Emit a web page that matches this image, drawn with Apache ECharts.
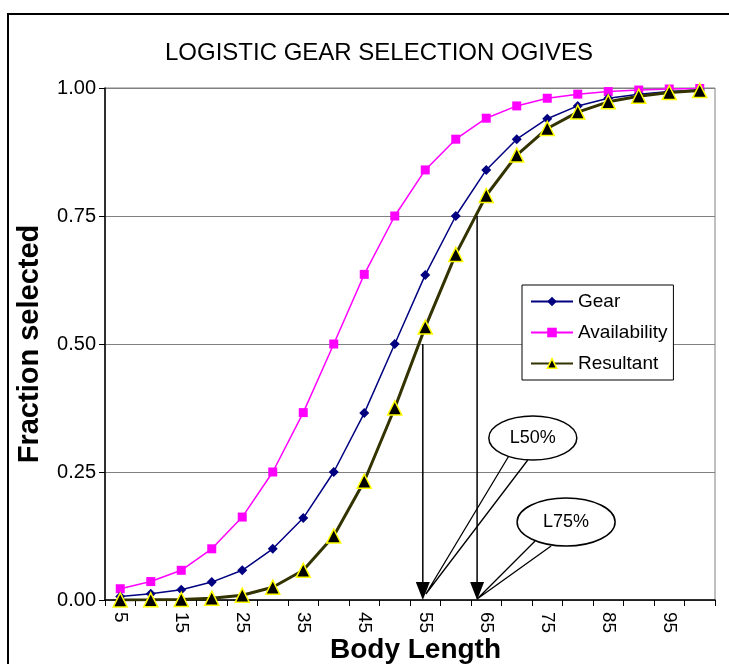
<!DOCTYPE html>
<html><head><meta charset="utf-8">
<script src="https://cdn.jsdelivr.net/npm/echarts@6/dist/echarts.min.js"></script>
<style>html,body{margin:0;padding:0;background:#fff}#c{width:729px;height:664px}</style>
</head><body><div id="c"></div>
<script>
var categories = ['5','10','15','20','25','30','35','40','45','50','55','60','65','70','75','80','85','90','95','100'];
var gear = [0.007,0.012,0.020,0.035,0.058,0.100,0.160,0.250,0.365,0.500,0.635,0.750,0.840,0.900,0.940,0.965,0.980,0.988,0.993,0.996];
var availability = [0.022,0.036,0.058,0.100,0.162,0.250,0.366,0.500,0.636,0.750,0.840,0.900,0.941,0.965,0.980,0.988,0.993,0.996,0.998,0.999];
var resultant = [0.0002,0.0004,0.0012,0.0035,0.0094,0.025,0.058,0.125,0.232,0.375,0.533,0.675,0.790,0.869,0.921,0.953,0.973,0.984,0.991,0.995];
var yTicks = ['0.00','0.25','0.50','0.75','1.00'];
var L50 = 54.6, L75 = 63.5; // body lengths marked by arrows
var L50level = 0.50, L75level = 0.75;

var F = 'Liberation Sans, Arial, sans-serif';
var chart = echarts.init(document.getElementById('c'), null, {renderer:'canvas'});
var option = {
  animation:false,
  backgroundColor:'#fff',
  title:{text:'LOGISTIC GEAR SELECTION OGIVES', left:374, top:36, textAlign:'center',
    textStyle:{fontFamily:F, fontSize:24, fontWeight:'normal', color:'#000'}},
  grid:{left:105, right:14, top:88, bottom:64, show:true, borderColor:'#808080', borderWidth:1,
    containLabel:false, outerBoundsMode:'none'},
  legend:{orient:'vertical', left:522, top:285, backgroundColor:'#fff', borderColor:'#000', borderWidth:1,
    padding:[7,6,7,8], itemWidth:42, itemHeight:12, itemGap:12,
    textStyle:{fontFamily:F, fontSize:19, color:'#000'},
    data:[
      {name:'Gear'},
      {name:'Availability'},
      {name:'Resultant', itemStyle:{color:'#000', borderColor:'#FFFF00', borderWidth:1.5}}
    ]},
  xAxis:{type:'category', data:categories, boundaryGap:true,
    name:'Body Length', nameLocation:'middle', nameGap:36, nameMoveOverlap:false,
    nameTextStyle:{fontFamily:F, fontSize:28, fontWeight:'bold', color:'#000', padding:[0,0,0,11]},
    axisLine:{lineStyle:{color:'#000', width:1.5}},
    axisTick:{show:true, interval:0, length:6, lineStyle:{color:'#000'}},
    axisLabel:{interval:1, rotate:-90, fontFamily:F, fontSize:19, color:'#000', margin:12},
    splitLine:{show:false}},
  yAxis:{type:'value', min:0, max:1, interval:0.25,
    name:'Fraction selected', nameLocation:'middle', nameGap:61, nameMoveOverlap:false,
    nameTextStyle:{fontFamily:F, fontSize:29, fontWeight:'bold', color:'#000'},
    axisLine:{show:true, lineStyle:{color:'#000', width:1.5}},
    axisTick:{show:true, length:6, lineStyle:{color:'#000'}},
    axisLabel:{fontFamily:F, fontSize:20, color:'#000', margin:9,
      formatter:function(v){ return yTicks[Math.round(v/0.25)]; }},
    splitLine:{lineStyle:{color:'#808080', width:1}}},
  series:[
    {name:'Gear', type:'line', data:gear, symbol:'diamond', symbolSize:10,
      lineStyle:{color:'#000080', width:1.5}, itemStyle:{color:'#000080'}, z:3},
    {name:'Availability', type:'line', data:availability, symbol:'rect', symbolSize:9,
      lineStyle:{color:'#FF00FF', width:1.5}, itemStyle:{color:'#FF00FF'}, z:2},
    {name:'Resultant', type:'line', data:resultant, symbol:'triangle', symbolSize:14,
      lineStyle:{color:'#333300', width:3}, itemStyle:{color:'#000', borderColor:'#FFFF00', borderWidth:1.5}, z:4}
  ]
};
chart.setOption(option);

function px(len, val){
  var idx = (len - 5) / 5;
  var i0 = Math.floor(idx), f = idx - i0;
  var p0 = chart.convertToPixel({xAxisIndex:0, yAxisIndex:0}, [i0, val]);
  var p1 = chart.convertToPixel({xAxisIndex:0, yAxisIndex:0}, [i0+1, val]);
  return [p0[0] + (p1[0]-p0[0])*f, p0[1]];
}
function arrow(len, level){
  var top = px(len, level), bot = px(len, 0);
  return [
    {type:'line', shape:{x1:top[0], y1:top[1], x2:bot[0], y2:bot[1]-14}, style:{stroke:'#000', lineWidth:1.5}, z:50},
    {type:'polygon', shape:{points:[[bot[0]-7, bot[1]-18],[bot[0]+7, bot[1]-18],[bot[0], bot[1]]]}, style:{fill:'#000'}, z:50}
  ];
}
function callout(len, text, dx, dy, rx, ry, b1, b2, tipdx, tipdy){
  var tip = px(len, 0);
  var tx = tip[0] + tipdx, ty = tip[1] + tipdy;
  var cx = tip[0] + dx, cy = tip[1] + dy;
  return [
    {type:'polyline', shape:{points:[[cx+b1[0], cy+b1[1]],[tx, ty],[cx+b2[0], cy+b2[1]]]}, style:{stroke:'#000', lineWidth:1.3, fill:null}, z:60},
    {type:'ellipse', shape:{cx:cx, cy:cy, rx:rx, ry:ry}, style:{fill:'#fff', stroke:'#000', lineWidth:1.5}, z:61},
    {type:'text', x:cx, y:cy, style:{text:text, fontFamily:F, fontSize:18, fill:'#000', align:'center', verticalAlign:'middle'}, z:62}
  ];
}
var g = [];
g.push({type:'rect', shape:{x:8, y:14, width:760, height:700}, style:{fill:null, stroke:'#000', lineWidth:2}, z:100});
g = g.concat(arrow(L50, L50level), arrow(L75, L75level));
g = g.concat(callout(L50, 'L50%', 110, -162, 44, 22, [-24, 18], [-5, 22], 3, -6));
g = g.concat(callout(L75, 'L75%', 89, -78, 49, 24, [-31, 19], [-15, 24], 0, -1));
chart.setOption({graphic:g});
</script></body></html>
